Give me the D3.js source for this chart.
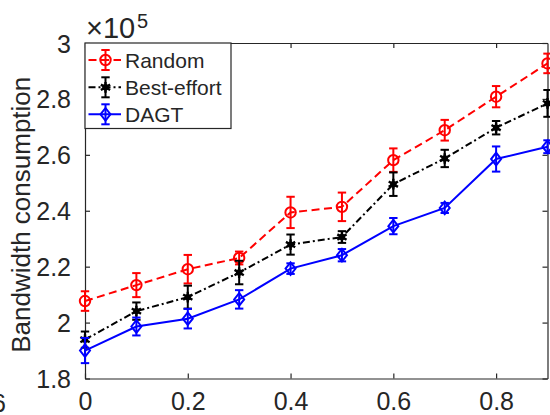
<!DOCTYPE html>
<html>
<head>
<meta charset="utf-8">
<script src="https://cdn.jsdelivr.net/npm/d3@7"></script>
<style>
  html, body { margin: 0; padding: 0; background: #fff; }
  svg { display: block; font-family: "Liberation Sans", Arial, Helvetica, sans-serif; }
</style>
</head>
<body>
<svg id="chart" width="550" height="415"></svg>
<script>
// Bandwidth consumption (in units of 1e5) versus the x parameter
const xValues = [0, 0.1, 0.2, 0.3, 0.4, 0.5, 0.6, 0.7, 0.8, 0.9];
const randomMean = [2.077, 2.134, 2.191, 2.231, 2.394, 2.414, 2.581, 2.688, 2.808, 2.927];
const randomErr  = [0.035, 0.043, 0.051, 0.023, 0.056, 0.051, 0.042, 0.037, 0.038, 0.035];
const bestMean   = [1.939, 2.041, 2.091, 2.179, 2.279, 2.306, 2.495, 2.587, 2.697, 2.784];
const bestErr    = [0.029, 0.031, 0.041, 0.042, 0.036, 0.021, 0.042, 0.031, 0.024, 0.048];
const dagtMean   = [1.900, 1.986, 2.014, 2.083, 2.193, 2.241, 2.345, 2.410, 2.585, 2.629];
const dagtErr    = [0.045, 0.032, 0.035, 0.033, 0.019, 0.022, 0.029, 0.018, 0.045, 0.023];
const seriesNames = ["Random", "Best-effort", "DAGT"];
const xTicks = [0, 0.2, 0.4, 0.6, 0.8];
const yTicks = [1.8, 2, 2.2, 2.4, 2.6, 2.8, 3];

const svg = d3.select("#chart");
const axisColor = "#262626";
const margin = { left: 85, right: 2.5, top: 43, bottom: 36.5 };
const W = 550, H = 415;

const x = d3.scaleLinear().domain([0, 0.9]).range([margin.left, W - margin.right]);
const y = d3.scaleLinear().domain([1.8, 3]).range([H - margin.bottom, margin.top]);

const series = [
  { name: seriesNames[0], mean: randomMean, err: randomErr, color: "#ff0000", dash: "8,4.5", marker: "circle" },
  { name: seriesNames[1], mean: bestMean,   err: bestErr,   color: "#000000", dash: "7,3,2,3", marker: "star" },
  { name: seriesNames[2], mean: dagtMean,   err: dagtErr,   color: "#0000ff", dash: null, marker: "diamond" }
];

// Axes box with ticks on all four sides
const fmt = d => (d === 0 ? "0" : d3.format("~g")(d));
const tickLen = 5;

const gx = svg.append("g").attr("transform", `translate(0,${y(1.8)})`)
  .call(d3.axisBottom(x).tickValues(xTicks).tickFormat(fmt).tickSizeInner(-tickLen).tickSizeOuter(0).tickPadding(14));
const gxTop = svg.append("g").attr("transform", `translate(0,${y(3)})`)
  .call(d3.axisTop(x).tickValues(xTicks).tickFormat("").tickSizeInner(-tickLen).tickSizeOuter(0));
const gy = svg.append("g").attr("transform", `translate(${x(0)},0)`)
  .call(d3.axisLeft(y).tickValues(yTicks).tickFormat(fmt).tickSizeInner(-tickLen).tickSizeOuter(0).tickPadding(14));
const gyRight = svg.append("g").attr("transform", `translate(${x(0.9)},0)`)
  .call(d3.axisRight(y).tickValues(yTicks).tickFormat("").tickSizeInner(-tickLen).tickSizeOuter(0));

[gx, gxTop, gy, gyRight].forEach(g => {
  g.select(".domain").attr("stroke", axisColor).attr("stroke-width", 1.2);
  g.selectAll(".tick line").attr("stroke", axisColor).attr("stroke-width", 1.2);
  g.selectAll(".tick text").attr("fill", axisColor).attr("font-size", 25)
    .attr("font-family", "'Liberation Sans', Arial, sans-serif");
});
gx.selectAll(".tick text").attr("dy", "0.71em");
gy.selectAll(".tick text").attr("dy", "0.36em");

// Fragment of a neighbouring tick label at the far left
svg.append("text").attr("x", 6).attr("y", 411.5).attr("text-anchor", "end")
  .attr("font-size", 25).attr("fill", axisColor).text("6");

// Exponent label
svg.append("text").attr("x", 86).attr("y", 37.5).attr("fill", axisColor)
  .attr("font-size", 29).text("×10");
svg.append("text").attr("x", 137).attr("y", 28).attr("fill", axisColor)
  .attr("font-size", 20).text("5");

// Y axis title
svg.append("text")
  .attr("transform", `translate(30,${(y(1.8) + y(3)) / 2 + 4}) rotate(-90)`)
  .attr("text-anchor", "middle").attr("font-size", 26).attr("fill", axisColor)
  .text("Bandwidth consumption");

// Marker drawing
function drawMarker(g, type, color) {
  if (type === "circle") {
    g.append("circle").attr("r", 5.2).attr("fill", "none").attr("stroke", color).attr("stroke-width", 2);
  } else if (type === "star") {
    g.append("path").attr("d", d3.symbol().type(d3.symbolAsterisk).size(80)())
      .attr("fill", "none").attr("stroke", color).attr("stroke-width", 2.4);
    g.append("circle").attr("r", 3.2).attr("fill", color);
  } else {
    g.append("path").attr("d", "M0,-6.3L5,0L0,6.3L-5,0Z")
      .attr("fill", "none").attr("stroke", color).attr("stroke-width", 2);
  }
}

const capHalf = 4.2;
const plot = svg.append("g");

series.forEach(s => {
  const pts = xValues.map((xv, i) => ({ x: xv, m: s.mean[i], e: s.err[i] }));
  const g = plot.append("g");
  // error bars
  const eb = g.selectAll(".eb").data(pts).join("g");
  eb.append("line").attr("x1", d => x(d.x)).attr("x2", d => x(d.x))
    .attr("y1", d => y(d.m - d.e)).attr("y2", d => y(d.m + d.e))
    .attr("stroke", s.color).attr("stroke-width", 2);
  eb.append("line").attr("x1", d => x(d.x) - capHalf).attr("x2", d => x(d.x) + capHalf)
    .attr("y1", d => y(d.m + d.e)).attr("y2", d => y(d.m + d.e))
    .attr("stroke", s.color).attr("stroke-width", 2);
  eb.append("line").attr("x1", d => x(d.x) - capHalf).attr("x2", d => x(d.x) + capHalf)
    .attr("y1", d => y(d.m - d.e)).attr("y2", d => y(d.m - d.e))
    .attr("stroke", s.color).attr("stroke-width", 2);
  // connecting line
  g.append("path").datum(pts)
    .attr("d", d3.line().x(d => x(d.x)).y(d => y(d.m)))
    .attr("fill", "none").attr("stroke", s.color).attr("stroke-width", 2)
    .attr("stroke-dasharray", s.dash);
  // markers
  pts.forEach(d => {
    const mg = g.append("g").attr("transform", `translate(${x(d.x)},${y(d.m)})`);
    drawMarker(mg, s.marker, s.color);
  });
});

// Legend
const legend = svg.append("g");
legend.append("rect").attr("x", x(0)).attr("y", y(3)).attr("width", 146).attr("height", 85.5)
  .attr("fill", "#fff").attr("stroke", axisColor).attr("stroke-width", 1.2);
const rowY = [60, 87.3, 114.3];
series.forEach((s, i) => {
  const ly = rowY[i];
  const lg = legend.append("g");
  lg.append("line").attr("x1", 88.5).attr("x2", 121).attr("y1", ly).attr("y2", ly)
    .attr("stroke", s.color).attr("stroke-width", 2).attr("stroke-dasharray", s.dash);
  lg.append("line").attr("x1", 105.5).attr("x2", 105.5).attr("y1", ly - 10).attr("y2", ly + 10)
    .attr("stroke", s.color).attr("stroke-width", 2);
  [ly - 10, ly + 10].forEach(cy => lg.append("line")
    .attr("x1", 105.5 - capHalf).attr("x2", 105.5 + capHalf).attr("y1", cy).attr("y2", cy)
    .attr("stroke", s.color).attr("stroke-width", 2));
  const mg = lg.append("g").attr("transform", `translate(105.5,${ly})`);
  drawMarker(mg, s.marker, s.color);
  lg.append("text").attr("x", 125).attr("y", ly).attr("dy", "0.36em")
    .attr("font-size", 21).attr("fill", axisColor).text(s.name);
});
</script>
</body>
</html>
